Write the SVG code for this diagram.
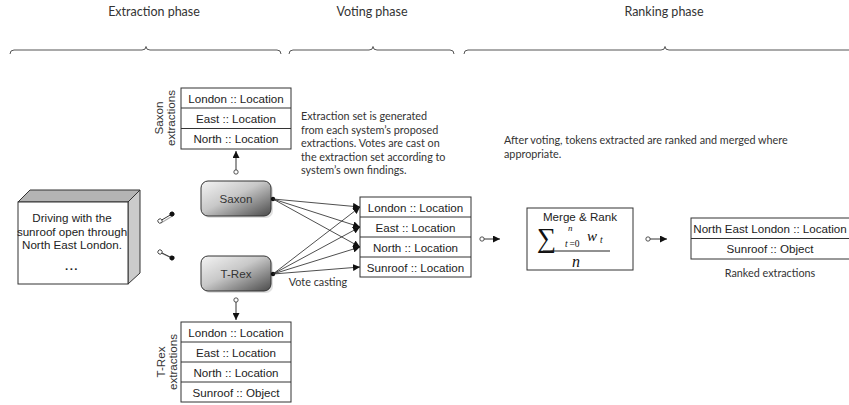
<svg xmlns="http://www.w3.org/2000/svg" width="849" height="405" viewBox="0 0 849 405">
  <defs>
    <linearGradient id="nodeFill" x1="0" y1="0" x2="1" y2="1">
      <stop offset="0" stop-color="#f4f4f4"/>
      <stop offset="0.45" stop-color="#c8c8c8"/>
      <stop offset="1" stop-color="#4a4a4a"/>
    </linearGradient>
    <marker id="head" viewBox="0 0 10 10" refX="10" refY="5" markerWidth="7" markerHeight="7" orient="auto" markerUnits="userSpaceOnUse">
      <path d="M0,0 L10,5 L0,10 z" fill="#111"/>
    </marker>
    <marker id="ring" viewBox="0 0 10 10" refX="5" refY="5" markerWidth="6" markerHeight="6" orient="auto" markerUnits="userSpaceOnUse">
      <circle cx="5" cy="5" r="3.6" fill="#fff" stroke="#333" stroke-width="1.4"/>
    </marker>
    <marker id="dot" viewBox="0 0 10 10" refX="5" refY="5" markerWidth="5" markerHeight="5" orient="auto" markerUnits="userSpaceOnUse">
      <circle cx="5" cy="5" r="5" fill="#111"/>
    </marker>
  </defs>
  <style>
    .hdr { font-family: Lato, "Open Sans", sans-serif; font-size: 12.5px; fill: #333; text-anchor: middle; }
    .note { font-family: Lato, "Open Sans", sans-serif; font-size: 10.8px; fill: #333; }
    .cap { font-family: Lato, "Open Sans", sans-serif; font-size: 10.8px; fill: #333; text-anchor: middle; }
    .cell { font-family: "Liberation Sans", Arial, sans-serif; font-size: 11.6px; fill: #222; text-anchor: middle; }
    .side { font-family: "Liberation Sans", Arial, sans-serif; font-size: 11.6px; fill: #333; text-anchor: middle; }
    .box { fill: #fff; stroke: #333; stroke-width: 1; }
    .brace { fill: none; stroke: #555; stroke-width: 1; }
    .edge { fill: none; stroke: #222; stroke-width: 0.8; }
    .link { fill: none; stroke: #333; stroke-width: 1; }
    .math { font-family: "Liberation Serif", "Times New Roman", serif; fill: #111; }
  </style>

  <!-- phase headers and braces -->
  <g id="phases">
    <text class="hdr" x="154" y="16">Extraction phase</text>
    <text class="hdr" x="372" y="16">Voting phase</text>
    <text class="hdr" x="664" y="16">Ranking phase</text>
    <path class="brace" d="M10,54 Q10,50 14,50 L142,50 Q146,50 146,46.5 Q146,50 150,50 L277,50 Q281,50 281,54"/>
    <path class="brace" d="M289,54 Q289,50 293,50 L369,50 Q373,50 373,46.5 Q373,50 377,50 L450,50 Q454,50 454,54"/>
    <path class="brace" d="M464,54 Q464,50 468,50 L661,50 Q665,50 665,46.5 Q665,50 669,50 L855,50"/>
  </g>

  <!-- input document -->
  <g id="document">
    <path d="M18,202 L30,190 L140,190 L128,202 z" fill="#b4b4b4" stroke="#333" stroke-width="1"/>
    <path d="M128,202 L140,190 L140,273 L128,284 z" fill="#cbcbcb" stroke="#333" stroke-width="1"/>
    <rect class="box" x="18" y="202" width="110" height="82"/>
    <text class="cell" x="72" y="222">Driving with the</text>
    <text class="cell" x="72" y="235.5">sunroof open through</text>
    <text class="cell" x="72" y="249">North East London.</text>
    <text class="cell" x="72" y="270" font-size="13" font-weight="bold" letter-spacing="1.5">...</text>
  </g>

  <!-- extractor nodes -->
  <g id="saxon">
    <rect x="203" y="183" width="70" height="35" rx="7" fill="#999" opacity="0.3"/>
    <rect x="201" y="181" width="70" height="35" rx="7" fill="url(#nodeFill)" stroke="#333" stroke-width="1"/>
    <text class="side" x="236" y="203">Saxon</text>
  </g>
  <g id="trex">
    <rect x="203" y="258" width="70" height="35" rx="7" fill="#999" opacity="0.3"/>
    <rect x="201" y="256" width="70" height="35" rx="7" fill="url(#nodeFill)" stroke="#333" stroke-width="1"/>
    <text class="side" x="236" y="278">T-Rex</text>
  </g>

  <!-- per-system extraction tables -->
  <g id="saxon-extractions">
    <rect class="box" x="181" y="88" width="110" height="61"/>
    <line class="link" x1="181" y1="108" x2="291" y2="108"/>
    <line class="link" x1="181" y1="128.5" x2="291" y2="128.5"/>
    <text class="cell" x="236" y="102.5">London :: Location</text>
    <text class="cell" x="236" y="122.5">East :: Location</text>
    <text class="cell" x="236" y="143">North :: Location</text>
    <text class="side" transform="translate(163,118) rotate(-90)">Saxon</text>
    <text class="side" transform="translate(175,118) rotate(-90)">extractions</text>
  </g>
  <g id="trex-extractions">
    <rect class="box" x="181" y="322" width="110" height="80"/>
    <line class="link" x1="181" y1="342" x2="291" y2="342"/>
    <line class="link" x1="181" y1="362" x2="291" y2="362"/>
    <line class="link" x1="181" y1="382" x2="291" y2="382"/>
    <text class="cell" x="236" y="336.5">London :: Location</text>
    <text class="cell" x="236" y="356.5">East :: Location</text>
    <text class="cell" x="236" y="376.5">North :: Location</text>
    <text class="cell" x="236" y="396.5">Sunroof :: Object</text>
    <text class="side" transform="translate(165,362) rotate(-90)">T-Rex</text>
    <text class="side" transform="translate(177,362) rotate(-90)">extractions</text>
  </g>

  <!-- shared extraction set -->
  <g id="extraction-set">
    <rect class="box" x="360" y="197" width="111" height="80"/>
    <line class="link" x1="360" y1="217" x2="471" y2="217"/>
    <line class="link" x1="360" y1="237" x2="471" y2="237"/>
    <line class="link" x1="360" y1="257" x2="471" y2="257"/>
    <text class="cell" x="415.5" y="211.5">London :: Location</text>
    <text class="cell" x="415.5" y="231.5">East :: Location</text>
    <text class="cell" x="415.5" y="251.5">North :: Location</text>
    <text class="cell" x="415.5" y="271.5">Sunroof :: Location</text>
  </g>

  <!-- merge and rank step -->
  <g id="merge-rank">
    <rect class="box" x="527" y="208" width="106" height="62"/>
    <text class="cell" x="580" y="221">Merge &amp; Rank</text>
    <text class="math" x="537" y="247" font-size="27">∑</text>
    <text class="math" x="568" y="231" font-size="9" font-style="italic">n</text>
    <text class="math" x="565" y="247" font-size="9.5" font-style="italic">t</text>
    <text class="math" x="569.5" y="247" font-size="9.5">=0</text>
    <text class="math" x="587" y="241" font-size="15" font-style="italic">w</text>
    <text class="math" x="600" y="243" font-size="9.5" font-style="italic">t</text>
    <line x1="543" y1="251" x2="610" y2="251" stroke="#222" stroke-width="1"/>
    <text class="math" x="576" y="267" font-size="16" font-style="italic" text-anchor="middle">n</text>
  </g>

  <!-- final ranked output -->
  <g id="ranked">
    <rect class="box" x="691" y="218" width="162" height="41"/>
    <line class="link" x1="691" y1="238.5" x2="849" y2="238.5"/>
    <text class="cell" x="770" y="232.5">North East London :: Location</text>
    <text class="cell" x="770" y="253">Sunroof :: Object</text>
    <text class="cap" x="770" y="277">Ranked extractions</text>
  </g>

  <!-- annotations -->
  <g id="notes">
    <text class="note" x="301" y="120">Extraction set is generated</text>
    <text class="note" x="301" y="133.5">from each system’s proposed</text>
    <text class="note" x="301" y="147">extractions. Votes are cast on</text>
    <text class="note" x="301" y="160.5">the extraction set according to</text>
    <text class="note" x="301" y="174">system’s own findings.</text>
    <text class="note" x="504" y="144">After voting, tokens extracted are ranked and merged where</text>
    <text class="note" x="504" y="158">appropriate.</text>
    <text class="cap" x="318" y="286">Vote casting</text>
  </g>

  <!-- connectors -->
  <g id="connectors">
    <!-- document feeds both extractors -->
    <line x1="161" y1="223" x2="174" y2="215" stroke="#aaa" stroke-width="1.2"/>
    <line class="link" x1="160" y1="221" x2="172" y2="214" marker-start="url(#ring)" marker-end="url(#dot)"/>
    <line x1="161" y1="253" x2="174" y2="259" stroke="#aaa" stroke-width="1.2"/>
    <line class="link" x1="160" y1="252" x2="172" y2="258" marker-start="url(#ring)" marker-end="url(#dot)"/>

    <!-- extractor outputs -->
    <line class="link" x1="236" y1="172" x2="236" y2="151" marker-start="url(#ring)" marker-end="url(#head)"/>
    <line class="link" x1="236" y1="300" x2="236" y2="320" marker-start="url(#ring)" marker-end="url(#head)"/>

    <!-- votes from Saxon -->
    <circle cx="273" cy="199" r="2.2" fill="#111"/>
    <line class="edge" x1="273" y1="199" x2="360" y2="207" marker-end="url(#head)"/>
    <line class="edge" x1="273" y1="199" x2="360" y2="227" marker-end="url(#head)"/>
    <line class="edge" x1="273" y1="199" x2="360" y2="247" marker-end="url(#head)"/>

    <!-- votes from T-Rex -->
    <circle cx="273" cy="274" r="2.2" fill="#111"/>
    <line class="edge" x1="273" y1="274" x2="360" y2="207" marker-end="url(#head)"/>
    <line class="edge" x1="273" y1="274" x2="360" y2="227" marker-end="url(#head)"/>
    <line class="edge" x1="273" y1="274" x2="360" y2="247" marker-end="url(#head)"/>
    <line class="edge" x1="273" y1="274" x2="360" y2="267" marker-end="url(#head)"/>

    <!-- flow into ranking and output -->
    <line class="link" x1="482" y1="239" x2="500" y2="239" marker-start="url(#ring)" marker-end="url(#head)"/>
    <line class="link" x1="648" y1="239" x2="667" y2="239" marker-start="url(#ring)" marker-end="url(#head)"/>
  </g>
</svg>
